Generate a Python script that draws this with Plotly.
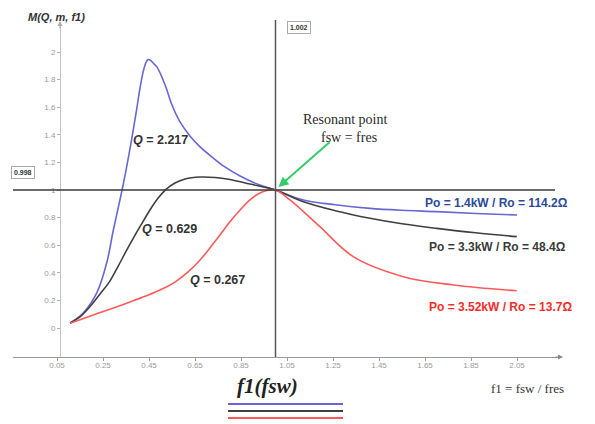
import plotly.graph_objects as go

# ---------------- data ----------------
f1_blue = [0.107, 0.164, 0.223, 0.266, 0.295, 0.333, 0.352, 0.377, 0.396, 0.411, 0.425, 0.436,
           0.446, 0.456, 0.468, 0.485, 0.520, 0.550, 0.585, 0.628, 0.672, 0.724, 0.780, 0.846,
           0.920, 1.0, 1.121, 1.26, 1.411, 1.55, 1.701, 1.87, 2.05]
M_blue = [0.036, 0.109, 0.254, 0.471, 0.71, 1.0, 1.16, 1.39, 1.58, 1.74, 1.86, 1.92,
          1.945, 1.94, 1.92, 1.89, 1.761, 1.616, 1.493, 1.391, 1.312, 1.239, 1.167, 1.101,
          1.043, 1.0, 0.928, 0.893, 0.867, 0.853, 0.843, 0.83, 0.819]

f1_black = [0.107, 0.150, 0.193, 0.237, 0.280, 0.315, 0.350, 0.385, 0.420, 0.454, 0.489, 0.524,
            0.563, 0.607, 0.672, 0.737, 0.802, 0.889, 1.0, 1.121, 1.26, 1.411, 1.55, 1.701,
            1.87, 2.049]
M_black = [0.036, 0.080, 0.154, 0.246, 0.340, 0.445, 0.555, 0.660, 0.760, 0.855, 0.940, 1.005,
           1.051, 1.080, 1.094, 1.091, 1.076, 1.043, 1.0, 0.915, 0.85, 0.795, 0.755, 0.722,
           0.69, 0.662]

f1_red = [0.107, 0.208, 0.353, 0.498, 0.563, 0.620, 0.672, 0.715, 0.759, 0.802, 0.846, 0.889,
          0.924, 0.959, 1.0, 1.063, 1.193, 1.338, 1.556, 1.773, 2.049]
M_red = [0.034, 0.094, 0.179, 0.275, 0.333, 0.406, 0.493, 0.580, 0.675, 0.770, 0.855, 0.928,
         0.971, 0.995, 1.0, 0.928, 0.734, 0.517, 0.372, 0.312, 0.270]

x_ticks = [0.05, 0.25, 0.45, 0.65, 0.85, 1.05, 1.25, 1.45, 1.65, 1.85, 2.05]
y_ticks = [0, 0.2, 0.4, 0.6, 0.8, 1, 1.2, 1.4, 1.6, 1.8, 2]

curve_names = ["Q = 2.217", "Q = 0.629", "Q = 0.267"]
load_labels = ["Po = 1.4kW / Ro = 114.2Ω", "Po = 3.3kW / Ro = 48.4Ω", "Po = 3.52kW / Ro = 13.7Ω"]

# ---------------- layout helpers ----------------
W, H = 595, 424
OFF = 8                          # page body margin in the browser
X1_PX, X_SCALE = 275.5, 230.0    # screen pixel of f1 = 1, pixels per unit
Y0_PX, Y_SCALE = 328.0, 138.0    # screen pixel of M = 0, pixels per unit


def xv(px):
    return 1 + (px - X1_PX) / X_SCALE


def yv(py):
    return (Y0_PX - py) / Y_SCALE


def PX(px):
    return (px - OFF) / W


def PY(py):
    return 1 - (py - OFF) / H


BLUE, BLACK, RED = "#6767d6", "#404040", "#ff5a5a"

fig = go.Figure()
for xs, ys, c, n in [(f1_blue, M_blue, BLUE, curve_names[0]),
                     (f1_black, M_black, BLACK, curve_names[1]),
                     (f1_red, M_red, RED, curve_names[2])]:
    fig.add_trace(go.Scatter(x=xs, y=ys, mode="lines", name=n,
                             line=dict(color=c, width=1.6, shape="spline", smoothing=1.0)))

tickfont = dict(family="Liberation Sans", size=8, color="#9a9a9a")
fig.update_layout(
    width=W, height=H,
    margin=dict(l=0, r=0, t=0, b=0, pad=0, autoexpand=False),
    paper_bgcolor="white", plot_bgcolor="white",
    showlegend=False,
    xaxis=dict(domain=[PX(13), PX(560)], range=[xv(13), xv(560)],
               anchor="free", position=PY(357),
               showline=True, linecolor="#9a9a9a", linewidth=1,
               ticks="outside", ticklen=3, tickcolor="#9a9a9a",
               tickvals=x_ticks, tickformat=".2f", tickfont=tickfont,
               ticklabelstandoff=-3,
               showgrid=False, zeroline=False),
    yaxis=dict(domain=[PY(357), PY(22)], range=[yv(357), yv(22)],
               anchor="free", position=PX(60),
               showline=True, linecolor="#c4c4c4", linewidth=1,
               ticks="outside", ticklen=3, tickcolor="#b0b0b0",
               tickvals=y_ticks, tickfont=tickfont,
               showgrid=False, zeroline=False),
)

shapes = [
    dict(type="line", xref="x", yref="y", x0=xv(13), x1=xv(555), y0=1, y1=1,
         line=dict(color="#3a3a3a", width=1.5)),
    dict(type="line", xref="x", yref="paper", x0=1, x1=1, y0=PY(357), y1=PY(20),
         line=dict(color="#555555", width=1.5)),
]
for py, c in [(404, BLUE), (411, BLACK), (418, RED)]:
    shapes.append(dict(type="line", xref="paper", yref="paper", x0=PX(228), x1=PX(343),
                       y0=PY(py), y1=PY(py), line=dict(color=c, width=2)))
fig.update_layout(shapes=shapes)


def text_at(px, py, text, font, xanchor="center", **kw):
    d = dict(xref="paper", yref="paper", x=PX(px), y=PY(py), text=text, showarrow=False,
             xanchor=xanchor, yanchor="middle", font=font)
    d.update(kw)
    return d


ann = []
ann.append(dict(xref="paper", yref="paper", x=PX(563), y=PY(357), ax=-9, ay=0, text="",
                showarrow=True, arrowhead=2, arrowsize=1, arrowwidth=1, arrowcolor="#888"))
ann.append(dict(xref="paper", yref="paper", x=PX(60), y=PY(21), ax=0, ay=9, text="",
                showarrow=True, arrowhead=2, arrowsize=1, arrowwidth=1, arrowcolor="#aaa"))
boxfont = dict(family="Liberation Sans", size=7, color="#333")
ann.append(text_at(23, 173, "<b>0.998</b>", boxfont, bordercolor="#aaa", borderwidth=1,
                   borderpad=2, bgcolor="white"))
ann.append(text_at(299, 27.5, "<b>1.002</b>", boxfont, bordercolor="#aaa", borderwidth=1,
                   borderpad=2, bgcolor="white"))
ann.append(text_at(26, 17, "<b><i>M(Q, m, f1)</i></b>",
                   dict(family="Liberation Sans", size=11, color="#333"), xanchor="left"))
qfont = dict(family="Liberation Sans", size=12.5, color="#333")
for name, px, py in [(curve_names[0], 131, 140), (curve_names[1], 140, 229), (curve_names[2], 188, 280)]:
    q, rest = name.split(" ", 1)
    ann.append(text_at(px, py, "<b><i>%s</i> %s</b>" % (q, rest), qfont, xanchor="left"))
serif14 = dict(family="Liberation Serif", size=14, color="#2a2a2a")
ann.append(text_at(345, 120, "Resonant point", serif14))
ann.append(text_at(349, 137, "fsw = fres", serif14))
ann.append(dict(xref="x", yref="y", x=xv(278.5), y=yv(187), axref="x", ayref="y",
                ax=xv(331), ay=yv(141), text="", showarrow=True, arrowhead=2, arrowsize=1,
                arrowwidth=2, arrowcolor="#33cc66"))
for lab, px, py, c in [(load_labels[0], 423, 203, "#2c4a9c"), (load_labels[1], 427, 247, "#3a3a3a"),
                       (load_labels[2], 427, 307, "#ff2a2a")]:
    ann.append(text_at(px, py, "<b>%s</b>" % lab,
                       dict(family="Liberation Sans", size=12, color=c), xanchor="left"))
ann.append(text_at(267, 386, "<b><i>f1(fsw)</i></b>",
                   dict(family="Liberation Serif", size=21, color="#222")))
ann.append(text_at(527, 388, "f1 = fsw / fres",
                   dict(family="Liberation Serif", size=13, color="#333")))
fig.update_layout(annotations=ann)

fig.write_html("out.html")
